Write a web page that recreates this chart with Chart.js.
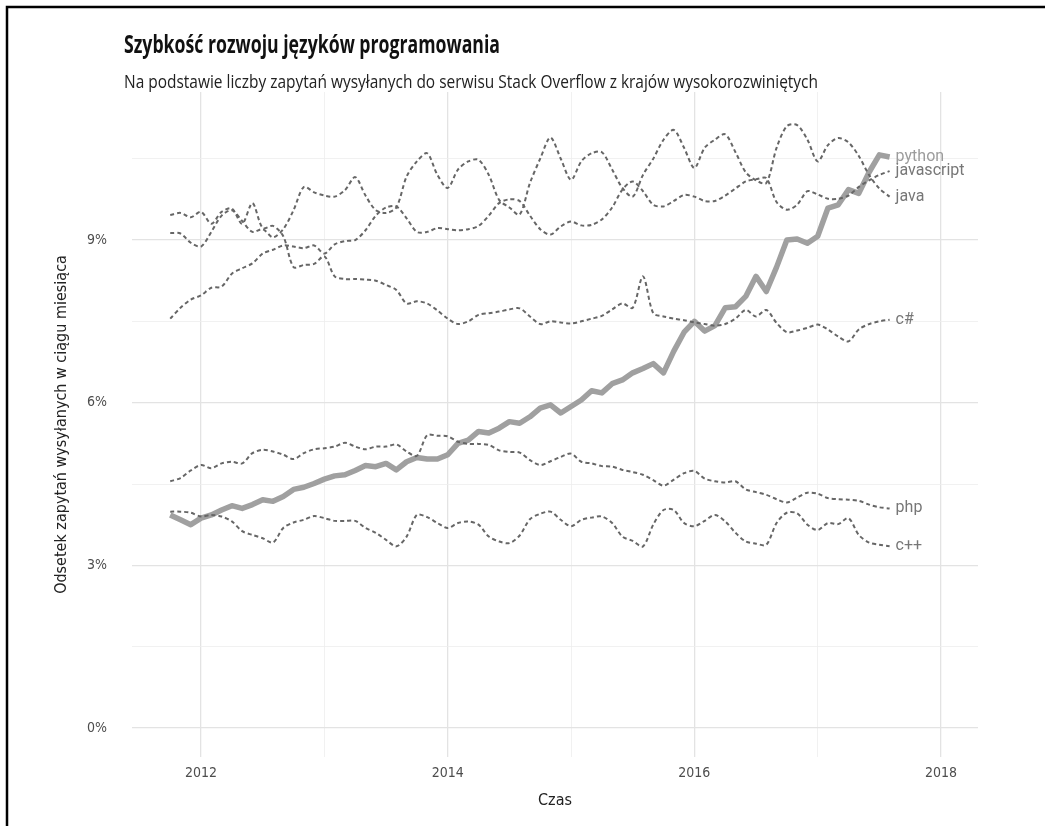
<!DOCTYPE html>
<html>
<head>
<meta charset="utf-8">
<title>Szybkość rozwoju języków programowania</title>
<script src="https://cdn.jsdelivr.net/npm/chart.js@4.4.0/dist/chart.umd.min.js"></script>
<style>
  html, body { margin: 0; padding: 0; background: #fff; }
  #chart { display: block; }
</style>
</head>
<body>
<canvas id="chart" width="1045" height="826"></canvas>
<script>
// months: 2011-10 .. 2017-08
var months = [];
for (var yy = 2011, mm = 10; yy < 2017 || (yy === 2017 && mm <= 8); mm++) {
    if (mm > 12) { mm = 1; yy++; }
    months.push(yy + '-' + (mm < 10 ? '0' + mm : mm));
}

var python = [3.93, 3.84, 3.75, 3.87, 3.93, 4.02, 4.10, 4.05, 4.12, 4.21,
    4.18, 4.27, 4.40, 4.44, 4.51, 4.59, 4.65, 4.67, 4.75, 4.84,
    4.82, 4.88, 4.76, 4.91, 4.99, 4.96, 4.96, 5.04, 5.25, 5.31,
    5.47, 5.44, 5.53, 5.65, 5.62, 5.74, 5.90, 5.96, 5.81, 5.93,
    6.05, 6.22, 6.18, 6.35, 6.42, 6.55, 6.63, 6.72, 6.55, 6.95,
    7.30, 7.50, 7.32, 7.42, 7.75, 7.77, 7.96, 8.33, 8.05, 8.50,
    9.00, 9.02, 8.94, 9.07, 9.59, 9.65, 9.93, 9.86, 10.25, 10.57,
    10.53];
var javascript = [7.55, 7.75, 7.90, 7.98, 8.12, 8.14, 8.38, 8.48, 8.57, 8.75,
    8.82, 8.90, 8.88, 8.85, 8.90, 8.75, 8.92, 8.98, 9.00, 9.18,
    9.45, 9.60, 9.62, 9.40, 9.15, 9.15, 9.22, 9.20, 9.18, 9.20,
    9.26, 9.45, 9.68, 9.75, 9.72, 9.45, 9.20, 9.10, 9.25, 9.34,
    9.27, 9.28, 9.38, 9.60, 9.93, 10.08, 9.90, 9.65, 9.62, 9.72,
    9.83, 9.80, 9.72, 9.72, 9.82, 9.95, 10.08, 10.12, 10.14, 9.70,
    9.56, 9.65, 9.90, 9.84, 9.76, 9.76, 9.82, 9.98, 10.10, 10.20,
    10.27];
var java = [9.13, 9.12, 8.95, 8.88, 9.15, 9.45, 9.55, 9.35, 9.15, 9.20,
    9.05, 9.20, 9.55, 9.98, 9.88, 9.82, 9.80, 9.92, 10.16, 9.82,
    9.55, 9.50, 9.60, 10.17, 10.45, 10.60, 10.20, 9.96, 10.30, 10.45,
    10.48, 10.20, 9.74, 9.60, 9.47, 10.05, 10.50, 10.89, 10.50, 10.11,
    10.45, 10.60, 10.62, 10.30, 9.96, 9.80, 10.20, 10.50, 10.85, 11.03,
    10.70, 10.33, 10.70, 10.85, 10.95, 10.62, 10.25, 10.10, 10.05, 10.70,
    11.10, 11.12, 10.85, 10.45, 10.75, 10.88, 10.80, 10.55, 10.20, 9.95,
    9.80];
var csharp = [9.46, 9.50, 9.42, 9.52, 9.30, 9.52, 9.58, 9.30, 9.68, 9.22,
    9.26, 9.07, 8.50, 8.54, 8.56, 8.70, 8.33, 8.28, 8.28, 8.27,
    8.25, 8.17, 8.08, 7.83, 7.87, 7.83, 7.70, 7.55, 7.45, 7.50,
    7.62, 7.65, 7.68, 7.72, 7.74, 7.59, 7.45, 7.50, 7.48, 7.46,
    7.50, 7.55, 7.60, 7.72, 7.83, 7.75, 8.33, 7.65, 7.59, 7.55,
    7.52, 7.48, 7.45, 7.42, 7.45, 7.55, 7.71, 7.59, 7.71, 7.47,
    7.30, 7.33, 7.38, 7.44, 7.35, 7.22, 7.13, 7.35, 7.45, 7.50,
    7.53];
var php = [4.55, 4.61, 4.75, 4.85, 4.79, 4.88, 4.91, 4.88, 5.07, 5.13,
    5.10, 5.04, 4.96, 5.07, 5.14, 5.16, 5.19, 5.26, 5.19, 5.14,
    5.19, 5.19, 5.23, 5.10, 5.02, 5.40, 5.39, 5.38, 5.28, 5.24,
    5.24, 5.22, 5.12, 5.09, 5.08, 4.94, 4.85, 4.92, 5.00, 5.06,
    4.91, 4.88, 4.83, 4.82, 4.76, 4.72, 4.67, 4.57, 4.47, 4.58,
    4.70, 4.74, 4.60, 4.55, 4.53, 4.55, 4.40, 4.35, 4.30, 4.22,
    4.16, 4.25, 4.34, 4.32, 4.24, 4.22, 4.21, 4.19, 4.12, 4.07,
    4.05];
var cpp = [3.99, 3.99, 3.97, 3.90, 3.93, 3.90, 3.81, 3.63, 3.56, 3.50,
    3.42, 3.69, 3.79, 3.84, 3.91, 3.87, 3.82, 3.82, 3.82, 3.69,
    3.60, 3.47, 3.35, 3.53, 3.93, 3.89, 3.78, 3.69, 3.78, 3.81,
    3.75, 3.53, 3.44, 3.41, 3.55, 3.85, 3.95, 3.99, 3.84, 3.72,
    3.84, 3.88, 3.90, 3.78, 3.53, 3.45, 3.35, 3.75, 4.02, 4.02,
    3.78, 3.72, 3.82, 3.93, 3.81, 3.60, 3.44, 3.40, 3.38, 3.78,
    3.97, 3.96, 3.75, 3.65, 3.78, 3.76, 3.87, 3.56, 3.42, 3.38,
    3.35];

var xTickYears = [2012, 2013, 2014, 2015, 2016, 2017, 2018];
var xTickLabels = ['2012', '', '2014', '', '2016', '', '2018'];
var yTickValues = [0, 1.5, 3, 4.5, 6, 7.5, 9, 10.5];
var yTickLabels = ['0%', '', '3%', '', '6%', '', '9%', ''];

var condensed = "'DejaVu Sans Condensed', 'Liberation Sans Narrow', Roboto, sans-serif";

function toYear(m) {
    var p = m.split('-');
    return +p[0] + (+p[1] - 1) / 12;
}
function series(values) {
    return values.map(function (v, i) { return { x: toYear(months[i]), y: v }; });
}
function dashed(label, values) {
    return {
        label: label, data: series(values), order: 0,
        borderColor: '#666666', borderWidth: 2, borderDash: [4, 3],
        tension: 0.3, pointRadius: 0, fill: false
    };
}

// frame, title, subtitle
var decor = {
    id: 'decor',
    beforeDraw: function (chart) {
        var ctx = chart.ctx;
        ctx.save();
        ctx.fillStyle = '#fff';
        ctx.fillRect(0, 0, chart.width, chart.height);
        ctx.strokeStyle = '#000';
        ctx.lineWidth = 2.5;
        ctx.beginPath();
        ctx.moveTo(7, chart.height);
        ctx.lineTo(7, 7);
        ctx.lineTo(chart.width, 7);
        ctx.stroke();
        ctx.restore();
        fitText(ctx, 'Szybkość rozwoju języków programowania', 124, 53, 376, 'bold 25px "Open Sans"', '#111');
        fitText(ctx, 'Na podstawie liczby zapytań wysyłanych do serwisu Stack Overflow z krajów wysokorozwiniętych', 124, 88, 694, '18px "Open Sans"', '#222');
    }
};
function fitText(ctx, text, x, y, width, font, color) {
    ctx.save();
    ctx.font = font;
    var w = ctx.measureText(text).width;
    ctx.translate(x, y);
    ctx.scale(width / w, 1);
    ctx.fillStyle = color;
    ctx.textBaseline = 'alphabetic';
    ctx.fillText(text, 0, 0);
    ctx.restore();
}

// names at the end of each line
var endLabels = {
    id: 'endLabels',
    afterDatasetsDraw: function (chart) {
        var ctx = chart.ctx;
        ctx.save();
        ctx.font = '16px Roboto';
        ctx.textBaseline = 'middle';
        chart.data.datasets.forEach(function (ds, i) {
            var pts = chart.getDatasetMeta(i).data;
            var p = pts[pts.length - 1];
            ctx.fillStyle = ds.label === 'python' ? '#9c9c9c' : '#777';
            ctx.fillText(ds.label, p.x + 6, p.y);
        });
        ctx.restore();
    }
};

new Chart(document.getElementById('chart'), {
    type: 'line',
    data: {
        datasets: [
            { label: 'python', data: series(python), order: 1, borderColor: '#a0a0a0', borderWidth: 5.5,
              tension: 0, pointRadius: 0, fill: false, borderJoinStyle: 'round' },
            dashed('javascript', javascript),
            dashed('java', java),
            dashed('c#', csharp),
            dashed('php', php),
            dashed('c++', cpp)
        ]
    },
    options: {
        responsive: false,
        animation: false,
        layout: { padding: { left: 0, right: 67, top: 92, bottom: 0 } },
        plugins: { legend: { display: false }, tooltip: { enabled: false } },
        scales: {
            x: {
                type: 'linear', min: 2011.44, max: 2018.30,
                afterBuildTicks: function (s) { s.ticks = xTickYears.map(function (v) { return { value: v }; }); },
                afterFit: function (s) { s.height = 69; },
                border: { display: false },
                grid: {
                    drawTicks: false,
                    color: function (c) { return c.index % 2 === 0 ? '#e3e3e3' : '#ededed'; },
                    lineWidth: function (c) { return c.index % 2 === 0 ? 1.3 : 0.8; }
                },
                ticks: {
                    autoSkip: false, maxRotation: 0, padding: 8, color: '#4d4d4d',
                    font: { family: condensed, size: 14 },
                    callback: function (v, i) { return xTickLabels[i]; }
                },
                title: { display: true, text: 'Czas', color: '#222', font: { family: condensed, size: 16 }, padding: { top: 0, bottom: 16 } }
            },
            y: {
                type: 'linear', min: -0.535, max: 11.73,
                afterBuildTicks: function (s) { s.ticks = yTickValues.map(function (v) { return { value: v }; }); },
                afterFit: function (s) { s.width = 132; },
                border: { display: false },
                grid: {
                    drawTicks: false,
                    color: function (c) { return c.index % 2 === 0 ? '#e3e3e3' : '#ededed'; },
                    lineWidth: function (c) { return c.index % 2 === 0 ? 1.3 : 0.8; }
                },
                ticks: {
                    padding: 25, color: '#4d4d4d',
                    font: { family: condensed, size: 14 },
                    callback: function (v, i) { return yTickLabels[i]; }
                },
                title: { display: true, text: 'Odsetek zapytań wysyłanych w ciągu miesiąca', color: '#222', font: { family: condensed, size: 16 }, padding: { top: 52, bottom: 0 } }
            }
        }
    },
    plugins: [decor, endLabels]
});
</script>
</body>
</html>
